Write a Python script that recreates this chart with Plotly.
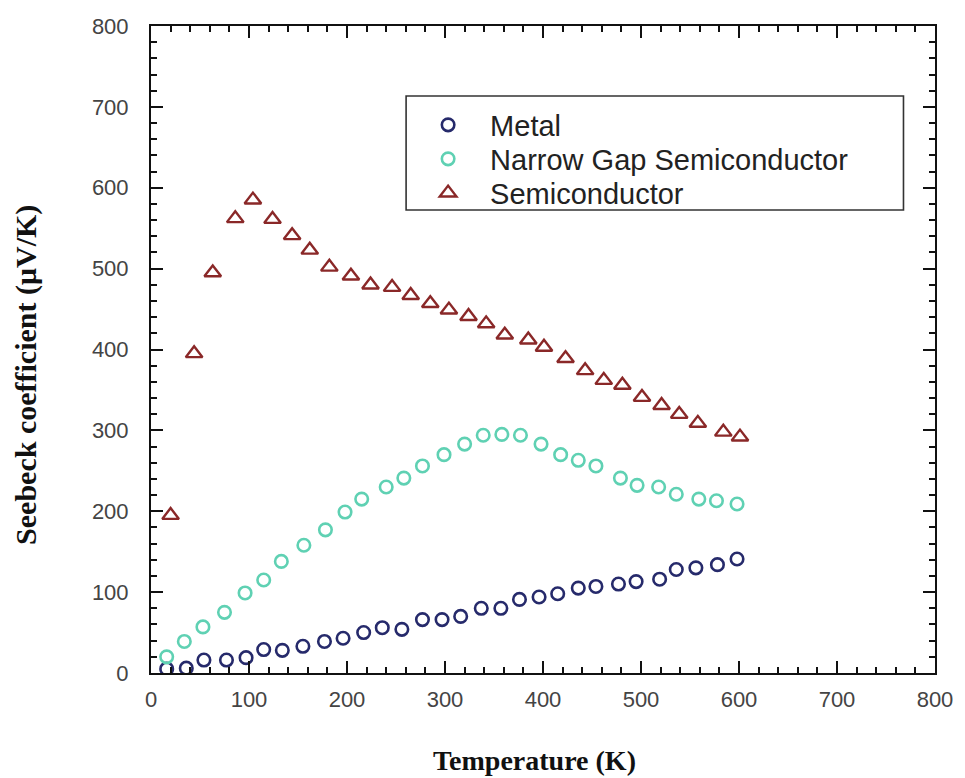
import plotly.graph_objects as go

# ---- data ----
metal_T = [16, 36, 54, 77, 97, 115, 134, 155, 177, 196, 217, 236, 256, 277, 297,
           316, 337, 357, 376, 396, 415, 436, 454, 477, 495, 519, 536, 556, 578, 598]
metal_S = [5, 6, 16, 16, 19, 29, 28, 33, 39, 43, 50, 56, 54, 66, 66,
           70, 80, 80, 91, 94, 98, 105, 107, 110, 113, 116, 128, 130, 134, 141]

narrow_T = [16, 34, 53, 75, 96, 115, 133, 156, 178, 198, 215, 240, 258, 277, 299,
            320, 339, 358, 377, 398, 418, 436, 454, 479, 496, 518, 536, 559, 577, 598]
narrow_S = [20, 39, 57, 75, 99, 115, 138, 158, 177, 199, 215, 230, 241, 256, 270,
            283, 294, 295, 294, 283, 270, 263, 256, 241, 232, 230, 221, 215, 213, 209]

semi_T = [20, 44, 63, 86, 104, 124, 144, 162, 182, 204, 224, 246, 265, 285, 304,
          324, 342, 361, 385, 401, 423, 443, 462, 481, 501, 521, 539, 558, 584, 601]
semi_S = [195, 395, 495, 562, 585, 561, 541, 523, 502, 491, 480, 477, 467, 457, 449,
          441, 432, 418, 412, 403, 389, 374, 362, 356, 341, 331, 320, 309, 298, 292]

series_names = ["Metal", "Narrow Gap Semiconductor", "Semiconductor"]
x_ticks = [0, 100, 200, 300, 400, 500, 600, 700, 800]
y_ticks = [0, 100, 200, 300, 400, 500, 600, 700, 800]

# ---- figure ----
W, H = 965, 778
L, R, T, B = 151, 18, 26, 105
pw, ph = W - L - R, H - T - B


def px_x(p):
    return (p - L) / pw


def px_y(p):
    return (H - B - p) / ph


fig = go.Figure()
fig.add_trace(go.Scatter(
    x=metal_T, y=metal_S, mode="markers", name=series_names[0], legend="legend",
    marker=dict(symbol="circle-open", size=12.5, color="#262a6b",
                line=dict(width=2.6, color="#262a6b"))))
fig.add_trace(go.Scatter(
    x=narrow_T, y=narrow_S, mode="markers", name=series_names[1], legend="legend2",
    marker=dict(symbol="circle-open", size=12.5, color="#5fd1b3",
                line=dict(width=2.6, color="#5fd1b3"))))
fig.add_trace(go.Scatter(
    x=semi_T, y=semi_S, mode="markers", name=series_names[2], legend="legend3",
    marker=dict(symbol="triangle-up-open", size=14.5, color="#8a2828",
                line=dict(width=2.4, color="#8a2828"))))

tickfont = dict(family="Liberation Sans, Arial, sans-serif", size=22, color="#444444")
axis_common = dict(
    range=[0, 800], ticks="inside", ticklen=12, tickwidth=2,
    tickcolor="#111111", showline=True, linecolor="#111111", linewidth=2,
    mirror="ticks", showgrid=False, zeroline=False, tickfont=tickfont,
    ticklabeloverflow="allow",
    minor=dict(dtick=20, ticks="inside", ticklen=6, tickwidth=1.6,
               tickcolor="#111111", showgrid=False),
    fixedrange=True,
)

legend_font = dict(family="Liberation Sans, Arial, sans-serif", size=29, color="#222222")


def legend_at(center_px):
    return dict(x=px_x(410), y=px_y(center_px), xanchor="left", yanchor="middle",
                bgcolor="rgba(0,0,0,0)", borderwidth=0, itemwidth=74,
                font=legend_font)


fig.update_layout(
    width=W, height=H, autosize=False,
    margin=dict(l=L, r=R, t=T, b=B, pad=0),
    paper_bgcolor="white", plot_bgcolor="white",
    xaxis=dict(axis_common, tickvals=x_ticks, ticklabelstandoff=6),
    yaxis=dict(axis_common, tickvals=y_ticks, ticklabelstandoff=16),
    showlegend=True,
    legend=legend_at(125),
    legend2=legend_at(159),
    legend3=legend_at(193),
    shapes=[dict(type="rect", xref="paper", yref="paper",
                 x0=px_x(410), x1=px_x(915), y0=px_y(210), y1=px_y(96),
                 line=dict(color="#333333", width=1.6), fillcolor="rgba(0,0,0,0)",
                 layer="below")],
    annotations=[
        dict(text="<b>Temperature (K)</b>", xref="paper", yref="paper",
             x=px_x(540), y=px_y(760), xanchor="center", yanchor="middle",
             showarrow=False,
             font=dict(family="Liberation Serif, Times New Roman, serif", size=28, color="#111111")),
        dict(text="<b>Seebeck coefficient (μV/K)</b>", xref="paper", yref="paper",
             x=px_x(24), y=px_y(375), xanchor="center", yanchor="middle",
             textangle=-90, showarrow=False,
             font=dict(family="Liberation Serif, Times New Roman, serif", size=30, color="#111111")),
    ],
)

fig.write_html("out.html", config={"displayModeBar": False},
               post_script="document.body.style.margin='0px';document.body.style.padding='0px';")
